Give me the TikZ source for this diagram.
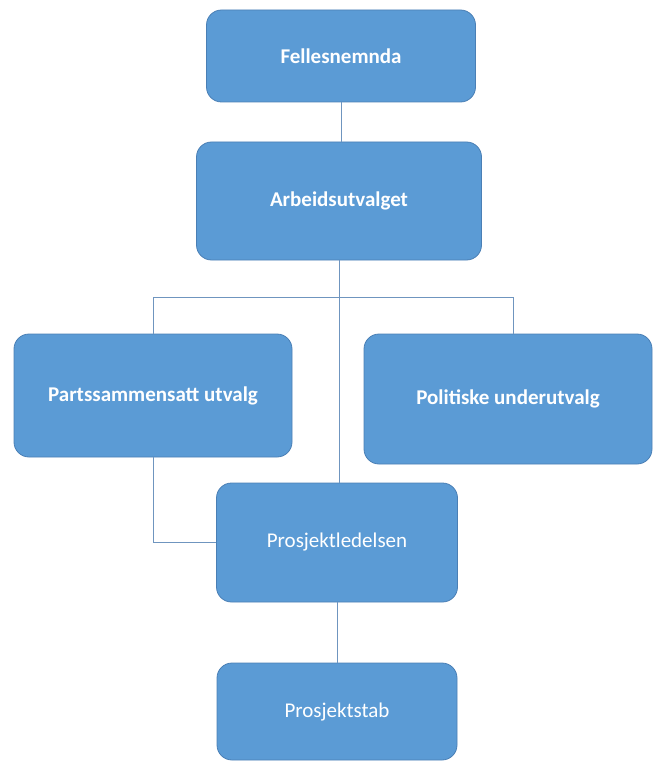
\documentclass[tikz,border=0pt]{standalone}
\usepackage{fontspec}
\setmainfont{Carlito}
\usepackage{xcolor}
\usepackage{tikz}

\definecolor{unitblue}{HTML}{5B9BD5}
\definecolor{unitedge}{HTML}{4A7FB5}
\definecolor{linkblue}{HTML}{6F95BF}

\begin{document}
\begin{tikzpicture}[x=1pt, y=-1pt,
  every node/.style={draw=unitedge, fill=unitblue, rounded corners=15pt, line width=0.8pt,
    text=white, inner sep=0pt, font=\fontsize{21}{25}\selectfont},
  board/.style={font=\bfseries\fontsize{21}{25}\selectfont},
  link/.style={draw=linkblue, line width=1pt}
]
\useasboundingbox (0,0) rectangle (654,762);

\node[board, minimum width=269pt, minimum height=92pt] (felles) at (341,56) {Fellesnemnda};
\node[board, minimum width=285pt, minimum height=118pt] (arbeid) at (339,201) {Arbeidsutvalget};
\node[board, minimum width=278pt, minimum height=123pt] (parts) at (153,395.5) {Partssammensatt utvalg};
\node[board, minimum width=288pt, minimum height=130pt] (politisk) at (508,399) {Politiske underutvalg};
\node[minimum width=241pt, minimum height=119pt] (ledelse) at (337,542.5) {Prosjektledelsen};
\node[minimum width=240pt, minimum height=97pt] (stab) at (337,711.5) {Prosjektstab};

\coordinate (busL) at (153,297);
\coordinate (busR) at (513,297);

\draw[link] (felles.south) -- (felles.south |- arbeid.north);
\draw[link] (arbeid.south) -- (arbeid.south |- ledelse.north);
\draw[link] (parts.north) -- (busL) -- (busR) -- (busR |- politisk.north);
\draw[link] (parts.south) |- (ledelse.west);
\draw[link] (ledelse.south) -- (stab.north);
\end{tikzpicture}
\end{document}
